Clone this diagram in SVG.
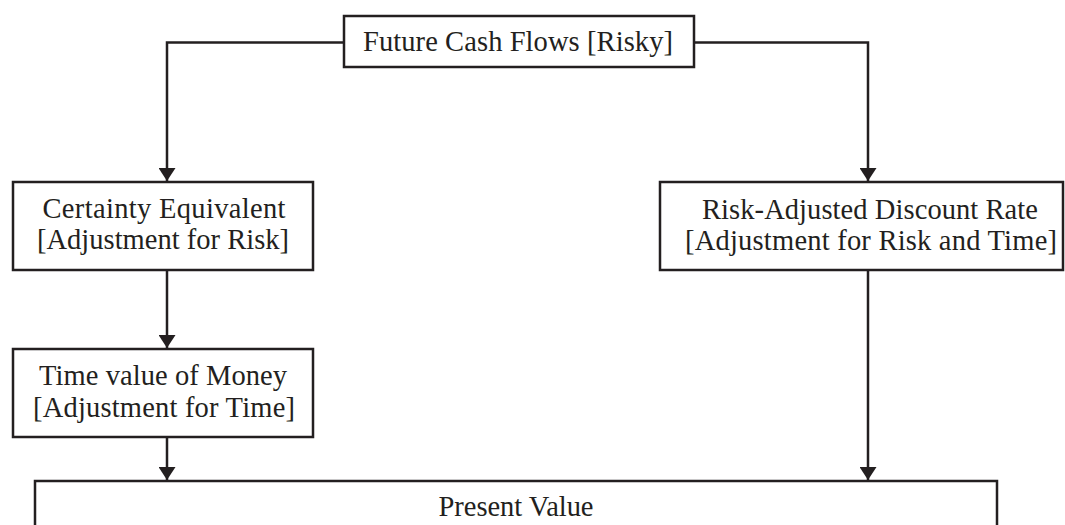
<svg xmlns="http://www.w3.org/2000/svg" width="1065" height="525" viewBox="0 0 1065 525">
  <style>
    .box { fill: #ffffff; stroke: #231f20; stroke-width: 2.5; }
    .conn { fill: none; stroke: #231f20; stroke-width: 2.5; }
    .lbl { font-family: "Liberation Serif", "Times New Roman", serif; font-size: 28.5px; fill: #231f20; text-anchor: middle; }
  </style>
  <defs>
    <marker id="arrow" markerUnits="userSpaceOnUse" viewBox="0 0 13 17" refX="13" refY="8.5" markerWidth="13" markerHeight="17" orient="auto">
      <path d="M0,0 L13,8.5 L0,17 z" fill="#231f20"/>
    </marker>
  </defs>
  <rect width="1065" height="525" fill="#ffffff"/>

  <g id="connectors">
    <path class="conn" d="M344,42.5 H167 V181" marker-end="url(#arrow)"/>
    <path class="conn" d="M694,42.5 H868 V181" marker-end="url(#arrow)"/>
    <path class="conn" d="M167,270 V348" marker-end="url(#arrow)"/>
    <path class="conn" d="M167,437 V480" marker-end="url(#arrow)"/>
    <path class="conn" d="M868,270 V480" marker-end="url(#arrow)"/>
  </g>

  <g id="future-cash-flows">
    <rect class="box" x="344" y="16" width="350" height="51"/>
    <text class="lbl" x="518" y="51" textLength="310">Future Cash Flows [Risky]</text>
  </g>

  <g id="certainty-equivalent">
    <rect class="box" x="13" y="182" width="300" height="88"/>
    <text class="lbl" x="164" y="218" textLength="243">Certainty Equivalent</text>
    <text class="lbl" x="163" y="249" textLength="252">[Adjustment for Risk]</text>
  </g>

  <g id="risk-adjusted-discount-rate">
    <rect class="box" x="660" y="182" width="403" height="88"/>
    <text class="lbl" x="870" y="219" textLength="336">Risk-Adjusted Discount Rate</text>
    <text class="lbl" x="871" y="250" textLength="372">[Adjustment for Risk and Time]</text>
  </g>

  <g id="time-value-of-money">
    <rect class="box" x="13" y="349" width="300" height="88"/>
    <text class="lbl" x="163" y="385" textLength="248">Time value of Money</text>
    <text class="lbl" x="164" y="417" textLength="262">[Adjustment for Time]</text>
  </g>

  <g id="present-value">
    <rect class="box" x="35" y="481" width="962" height="70"/>
    <text class="lbl" x="516" y="516" textLength="155">Present Value</text>
  </g>
</svg>
